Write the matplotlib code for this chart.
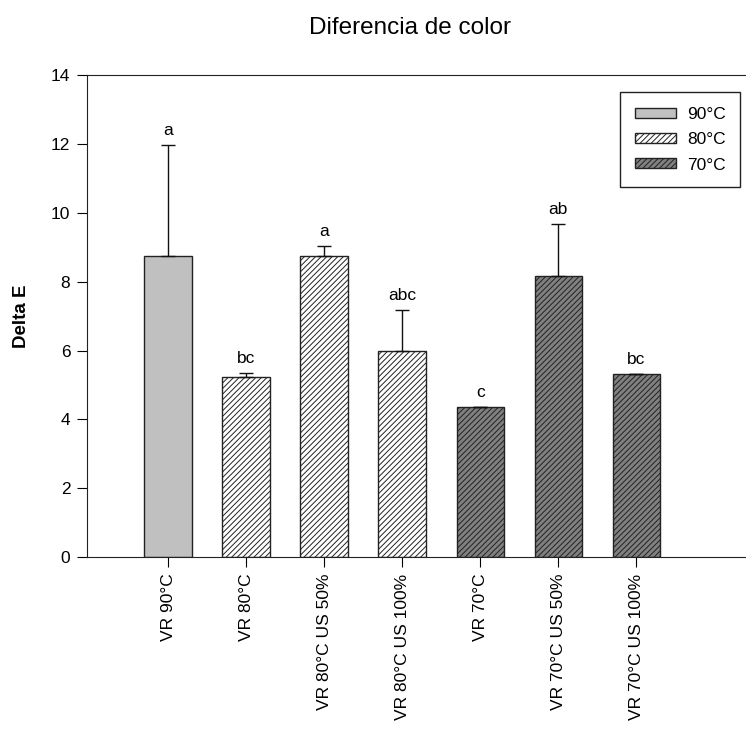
import matplotlib
matplotlib.use("Agg")
import matplotlib.pyplot as plt
import numpy as np

plt.rcParams['font.family'] = ['Liberation Sans', 'DejaVu Sans']
plt.rcParams['hatch.linewidth'] = 0.7

labels = ['VR 90°C', 'VR 80°C', 'VR 80°C US 50%', 'VR 80°C US 100%',
          'VR 70°C', 'VR 70°C US 50%', 'VR 70°C US 100%']
delta_e = [8.75, 5.22, 8.75, 6.0, 4.36, 8.17, 5.31]
err_up = [3.23, 0.12, 0.28, 1.17, 0.0, 1.5, 0.0]
letters = ['a', 'bc', 'a', 'abc', 'c', 'ab', 'bc']
temp = ['90°C', '80°C', '80°C', '80°C', '70°C', '70°C', '70°C']

styles = {
    '90°C': dict(color='#c0c0c0', hatch=None),
    '80°C': dict(color='#ffffff', hatch='//////'),
    '70°C': dict(color='#808080', hatch='//////'),
}

fig = plt.figure(figsize=(7.46, 7.30), dpi=100)
ax = fig.add_axes([0.1166, 0.237, 0.8834 + 0.01, 0.66])

x = np.arange(len(labels))
seen = set()
for i, (v, t) in enumerate(zip(delta_e, temp)):
    st = styles[t]
    lab = t if t not in seen else None
    seen.add(t)
    ax.bar(x[i], v, width=0.61, color=st['color'], hatch=st['hatch'],
           edgecolor='#222222', linewidth=1.0, label=lab, zorder=2)

ax.errorbar(x, delta_e, yerr=[np.zeros(len(x)), err_up], fmt='none',
            ecolor='#111111', elinewidth=1.0, capsize=5, capthick=1.0, zorder=3)

for xi, v, e, s in zip(x, delta_e, err_up, letters):
    ax.annotate(s, (xi, v + e), xytext=(0, 5), textcoords='offset points',
                ha='center', va='bottom', fontsize=12.5)

ax.set_xlim(-1.04, 7.5)
ax.set_ylim(0, 14)
ax.set_yticks(range(0, 15, 2))
ax.set_xticks(x)
ax.set_xticklabels(labels, rotation=90, fontsize=12.5)
ax.tick_params(axis='y', labelsize=12.5, direction='out', length=7, pad=5)
ax.tick_params(axis='x', direction='out', length=7, pad=5)
ax.spines['right'].set_visible(False)
for s in ['left', 'bottom', 'top']:
    ax.spines[s].set_color('#222222')

ax.set_ylabel('Delta E', fontsize=13.5, fontweight='bold', labelpad=15)
fig.text(410 / 746, 1 - 28 / 730, 'Diferencia de color', ha='center',
         va='center', fontsize=17.5)

leg = ax.legend(loc='upper left', bbox_to_anchor=(620 / 746, 1 - 92 / 730),
                bbox_transform=fig.transFigure, fontsize=12.5,
                handlelength=2.4, handleheight=0.5, labelspacing=0.6,
                handletextpad=0.6, borderpad=0.85, borderaxespad=0,
                fancybox=False, edgecolor='#222222', framealpha=1)
leg.get_frame().set_linewidth(1.0)

fig.savefig('out.png', dpi=100)
